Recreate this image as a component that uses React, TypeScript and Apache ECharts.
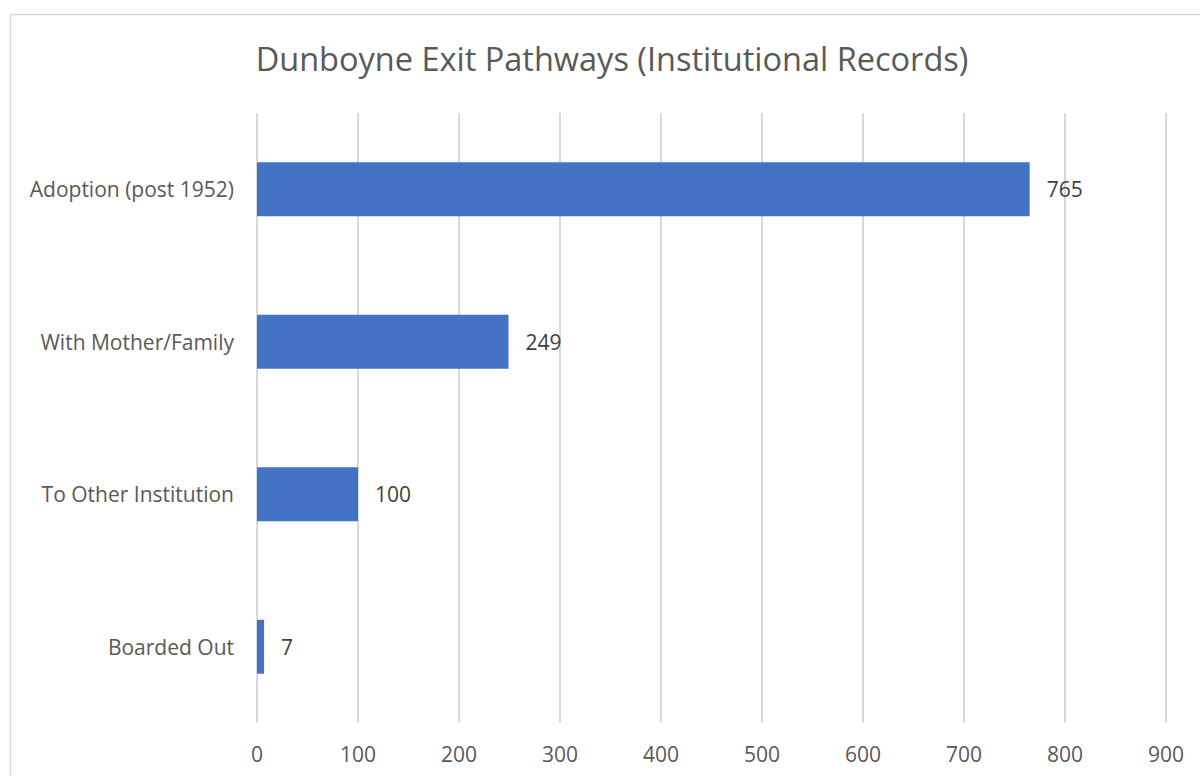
import React, { useEffect, useRef } from "react";
import * as echarts from "echarts";

const categories = ["Adoption (post 1952)", "With Mother/Family", "To Other Institution", "Boarded Out"];
const values = [765, 249, 100, 7];
const titleText = "Dunboyne Exit Pathways (Institutional Records)";

export default function App() {
  const ref = useRef<HTMLDivElement>(null);
  useEffect(() => {
    if (!ref.current) return;
    const chart = echarts.init(ref.current, null, { renderer: "svg" });
    const font = "'Open Sans', 'Noto Sans', sans-serif";
    chart.setOption({
      animation: false,
      backgroundColor: "#ffffff",
      textStyle: { fontFamily: font },
      title: {
        text: titleText,
        left: 607,
        textAlign: "center",
        top: 37,
        textStyle: { fontFamily: font, fontSize: 32.5, fontWeight: "normal", color: "#595959" },
      },
      graphic: [
        {
          type: "rect",
          shape: { x: 10.5, y: 14.5, width: 1200, height: 800 },
          style: { fill: "none", stroke: "#d9d9d9", lineWidth: 1.5 },
          silent: true,
        },
      ],
      grid: { left: 257, right: 34, top: 113, bottom: 53 },
      xAxis: {
        type: "value",
        min: 0,
        max: 900,
        interval: 100,
        axisLine: { show: false },
        axisTick: { show: false },
        splitLine: { show: true, lineStyle: { color: "#d9d9d9", width: 2 } },
        axisLabel: { color: "#595959", fontSize: 21, fontFamily: font, margin: 20 },
      },
      yAxis: {
        type: "category",
        data: categories,
        inverse: true,
        axisLine: { show: false },
        axisTick: { show: false },
        splitLine: { show: false },
        axisLabel: { color: "#595959", fontSize: 21, fontFamily: font, margin: 23 },
      },
      series: [
        {
          type: "bar",
          data: values,
          barWidth: 54,
          itemStyle: { color: "#4472c4" },
          label: {
            show: true,
            position: "right",
            distance: 17,
            color: "#404040",
            fontSize: 21,
            fontFamily: font,
          },
        },
      ],
    });
    return () => chart.dispose();
  }, []);
  return (
    <div
      ref={ref}
      style={{ position: "fixed", left: 0, top: 0, width: 1200, height: 776 }}
    />
  );
}
